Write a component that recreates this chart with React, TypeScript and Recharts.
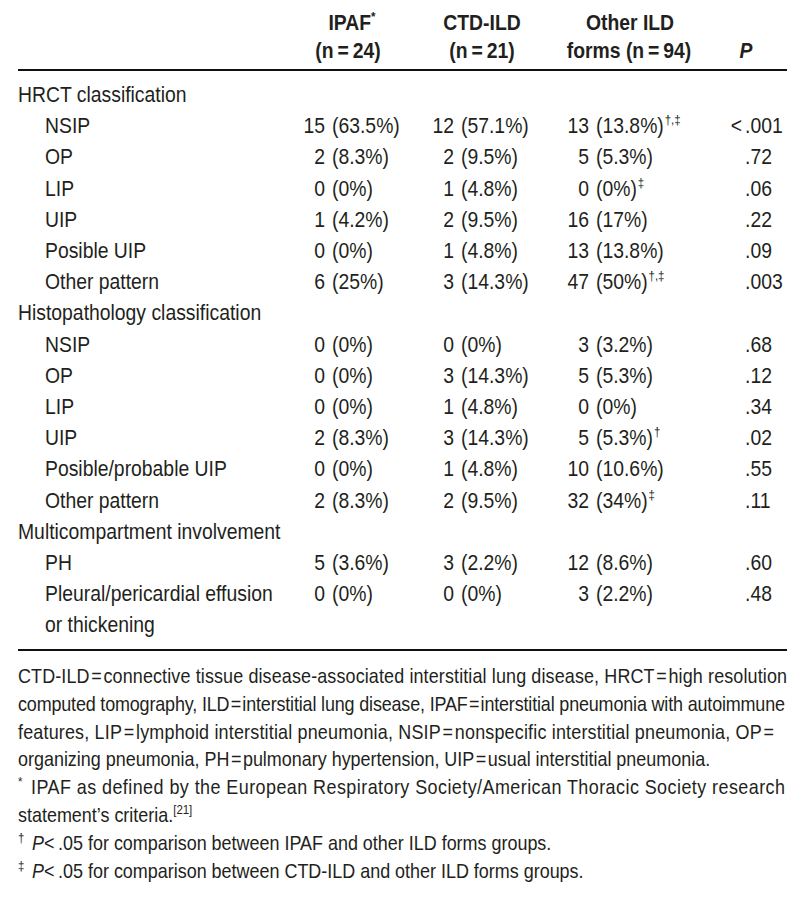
import React from 'react';
import { ScatterChart, Scatter, XAxis, YAxis, Customized } from 'recharts';

// table content
const rowLabels = [
    'HRCT classification',
    'NSIP',
    'OP',
    'LIP',
    'UIP',
    'Posible UIP',
    'Other pattern',
    'Histopathology classification',
    'NSIP',
    'OP',
    'LIP',
    'UIP',
    'Posible/probable UIP',
    'Other pattern',
    'Multicompartment involvement',
    'PH',
    'Pleural/pericardial effusion',
    'or thickening',
];
const sectionRows = [0, 7, 14];

const groupNames = ['IPAF', 'CTD-ILD', 'Other ILD forms'];
const groupN = [24, 21, 94];

const ipafN = [null, 15, 2, 0, 1, 0, 6, null, 0, 0, 0, 2, 0, 2, null, 5, 0, null];
const ipafPct = [null, 63.5, 8.3, 0, 4.2, 0, 25, null, 0, 0, 0, 8.3, 0, 8.3, null, 3.6, 0, null];
const ctdN = [null, 12, 2, 1, 2, 1, 3, null, 0, 3, 1, 3, 1, 2, null, 3, 0, null];
const ctdPct = [null, 57.1, 9.5, 4.8, 9.5, 4.8, 14.3, null, 0, 14.3, 4.8, 14.3, 4.8, 9.5, null, 2.2, 0, null];
const otherN = [null, 13, 5, 0, 16, 13, 47, null, 3, 5, 0, 5, 10, 32, null, 12, 3, null];
const otherPct = [null, 13.8, 5.3, 0, 17, 13.8, 50, null, 3.2, 5.3, 0, 5.3, 10.6, 34, null, 8.6, 2.2, null];
const otherMarks = ['', '†,‡', '', '‡', '', '', '†,‡', '', '', '', '', '†', '', '‡', '', '', '', ''];
const pValues = [null, '<.001', '.72', '.06', '.22', '.09', '.003', null, '.68', '.12', '.34', '.02', '.55', '.11', null, '.60', '.48', null];

const footnotes = [
    'CTD-ILD\u200a=\u200aconnective tissue disease-associated interstitial lung disease, HRCT\u200a=\u200ahigh resolution',
    'computed tomography, ILD\u200a=\u200ainterstitial lung disease, IPAF\u200a=\u200ainterstitial pneumonia with autoimmune',
    'features, LIP\u200a=\u200alymphoid interstitial pneumonia, NSIP\u200a=\u200anonspecific interstitial pneumonia, OP\u200a=',
    'organizing pneumonia, PH\u200a=\u200apulmonary hypertension, UIP\u200a=\u200ausual interstitial pneumonia.',
    'IPAF as defined by the European Respiratory Society/American Thoracic Society research',
    'statement\u2019s criteria.',
    '<\u2009.05 for comparison between IPAF and other ILD forms groups.',
    '<\u2009.05 for comparison between CTD-ILD and other ILD forms groups.',
];

// layout
const FONT = '"Liberation Sans", Arial, Helvetica, sans-serif';
const INK = '#231f20';
const SX = 0.88; // condensed look
const BODY = 22;
const NOTE = 20.4;
const W = 800;
const H = 911;
const ROW0 = 94;
const PITCH = 31.2;
const LAST = rowLabels.length - 1;
const COL_X = { label: 18, ipaf: 325, ctd: 454, other: 589, p: 745 };
const PAREN_GAP = 7;
const HEAD_X = [352, 482, 630];
const LEFT = 18;
const RIGHT = 787;

const NText = ({ x, y, anchor = 'start', size = BODY, bold = false, italic = false, len, children }: any) => (
    <text
        transform={`translate(${x},${y}) scale(${SX},1)`}
        textAnchor={anchor}
        fontSize={size}
        fontFamily={FONT}
        fontWeight={bold ? 700 : 400}
        fontStyle={italic ? 'italic' : 'normal'}
        fill={INK}
        textLength={len ? len / SX : undefined}
        lengthAdjust={len ? 'spacing' : undefined}
    >
        {children}
    </text>
);

const labelData = rowLabels.map((text, row) => ({ x: COL_X.label, row, text, section: sectionRows.includes(row) }));

const groupData = (x: number, ns: (number | null)[], pcts: (number | null)[], marks?: string[]) =>
    ns.map((n, row) => ({ x, row, n, pct: pcts[row], mark: marks ? marks[row] : '' })).filter(d => d.n !== null);

const pData = pValues.map((text, row) => ({ x: COL_X.p, row, text })).filter(d => d.text !== null);

const LabelShape = (props: any) => {
    const { cx, cy, payload } = props;
    return <NText x={payload.section ? cx : cx + 27} y={cy + 8}>{payload.text}</NText>;
};

const CountShape = (props: any) => {
    const { cx, cy, payload } = props;
    return (
        <g>
            <NText x={cx} y={cy + 8} anchor="end">{payload.n}</NText>
            <NText x={cx + PAREN_GAP} y={cy + 8}>
                ({payload.pct}%)
                {payload.mark ? <tspan fontSize={13} dx={1} dy={-9}>{payload.mark}</tspan> : null}
            </NText>
        </g>
    );
};

const PShape = (props: any) => {
    const { cx, cy, payload } = props;
    const t: string = payload.text;
    if (t.startsWith('<')) {
        return (
            <g>
                <NText x={cx - 3} y={cy + 8} anchor="end">&lt;</NText>
                <NText x={cx} y={cy + 8}>{t.slice(1)}</NText>
            </g>
        );
    }
    return <NText x={cx} y={cy + 8}>{t}</NText>;
};

const Decor = () => {
    const fy = (i: number) => 683 + 27.8 * i;
    return (
        <g>
            {/* column headers */}
            <NText x={HEAD_X[0]} y={30} anchor="middle" bold>
                {groupNames[0]}<tspan fontSize={13} dy={-9}>*</tspan>
            </NText>
            <NText x={HEAD_X[0] - 4} y={58} anchor="middle" bold>(n{'\u2009=\u2009'}{groupN[0]})</NText>
            <NText x={HEAD_X[1]} y={30} anchor="middle" bold>{groupNames[1]}</NText>
            <NText x={HEAD_X[1]} y={58} anchor="middle" bold>(n{'\u2009=\u2009'}{groupN[1]})</NText>
            <NText x={HEAD_X[2]} y={30} anchor="middle" bold>Other ILD</NText>
            <NText x={HEAD_X[2] - 1} y={58} anchor="middle" bold>forms (n{'\u2009=\u2009'}{groupN[2]})</NText>
            <NText x={746} y={58} anchor="middle" bold italic>P</NText>

            <line x1={LEFT} x2={RIGHT} y1={70} y2={70} stroke="#111" strokeWidth={1.8} />
            <line x1={LEFT} x2={RIGHT} y1={650} y2={650} stroke="#111" strokeWidth={1.8} />

            {/* footnotes */}
            <NText x={LEFT} y={fy(0)} size={NOTE} len={RIGHT - LEFT}>{footnotes[0]}</NText>
            <NText x={LEFT} y={fy(1)} size={NOTE} len={785 - LEFT}>{footnotes[1]}</NText>
            <NText x={LEFT} y={fy(2)} size={NOTE} len={774 - LEFT}>{footnotes[2]}</NText>
            <NText x={LEFT} y={fy(3)} size={NOTE}>{footnotes[3]}</NText>
            <NText x={LEFT} y={fy(4) - 8} size={13}>*</NText>
            <NText x={31} y={fy(4)} size={NOTE} len={785 - 31}>{footnotes[4]}</NText>
            <NText x={LEFT} y={fy(5)} size={NOTE}>
                {footnotes[5]}<tspan fontSize={13} dy={-8}>[21]</tspan>
            </NText>
            <NText x={LEFT} y={fy(6) - 8} size={13}>†</NText>
            <NText x={32} y={fy(6)} size={NOTE}>
                <tspan fontStyle="italic">P</tspan>{footnotes[6]}
            </NText>
            <NText x={LEFT} y={fy(7) - 8} size={13}>‡</NText>
            <NText x={32} y={fy(7)} size={NOTE}>
                <tspan fontStyle="italic">P</tspan>{footnotes[7]}
            </NText>
        </g>
    );
};

export default function App() {
    return (
        <div style={{ position: 'absolute', top: 0, left: 0, background: '#fff' }}>
            <ScatterChart
                width={W}
                height={H}
                margin={{ top: ROW0, right: 0, bottom: H - ROW0 - LAST * PITCH, left: 0 }}
            >
                <XAxis type="number" dataKey="x" domain={[0, W]} hide />
                <YAxis type="number" dataKey="row" domain={[0, LAST]} reversed hide />
                <Scatter data={labelData} shape={LabelShape} isAnimationActive={false} />
                <Scatter data={groupData(COL_X.ipaf, ipafN, ipafPct)} shape={CountShape} isAnimationActive={false} />
                <Scatter data={groupData(COL_X.ctd, ctdN, ctdPct)} shape={CountShape} isAnimationActive={false} />
                <Scatter data={groupData(COL_X.other, otherN, otherPct, otherMarks)} shape={CountShape} isAnimationActive={false} />
                <Scatter data={pData} shape={PShape} isAnimationActive={false} />
                <Customized component={Decor} />
            </ScatterChart>
        </div>
    );
}
